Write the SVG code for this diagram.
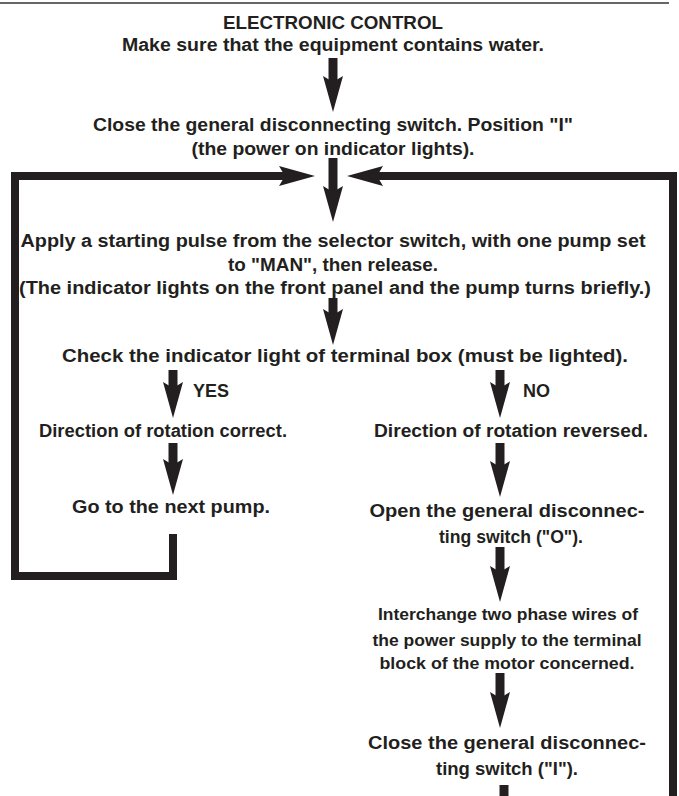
<svg xmlns="http://www.w3.org/2000/svg" width="679" height="796" viewBox="0 0 679 796">
<style>
.t{font-family:"Liberation Sans",Arial,sans-serif;font-weight:bold;font-size:18px;fill:#231f20;text-anchor:middle}
.s{font-size:17px}
.l{text-anchor:start}
.c{fill:none;stroke:#231f20;stroke-width:9;stroke-linejoin:miter;stroke-linecap:butt}
.k{stroke-width:8}
</style>
<defs>
<marker id="ah" viewBox="0 -11 40 22" refX="6" refY="0" markerWidth="40" markerHeight="22" markerUnits="userSpaceOnUse" orient="auto">
<path d="M0,-10 L36,0 L0,10 L6,0 Z" fill="#231f20"/>
</marker>
</defs>
<rect width="679" height="796" fill="#fff"/>
<line x1="0" y1="3" x2="669" y2="3" stroke="#333" stroke-width="1.5"/>

<g id="connectors">
<line class="c" x1="333" y1="58" x2="333" y2="82" marker-end="url(#ah)"/>
<line class="c" x1="333" y1="158" x2="333" y2="192" marker-end="url(#ah)"/>
<path class="c k" d="M173,534 V576 H15 V176 H285" marker-end="url(#ah)"/>
<path class="c k" d="M673,796 V176 H377" marker-end="url(#ah)"/>
<line class="c" x1="333" y1="298" x2="333" y2="315" marker-end="url(#ah)"/>
<line class="c" x1="173" y1="370" x2="173" y2="388" marker-end="url(#ah)"/>
<line class="c" x1="500" y1="370" x2="500" y2="388" marker-end="url(#ah)"/>
<line class="c" x1="173" y1="443" x2="173" y2="465" marker-end="url(#ah)"/>
<line class="c" x1="500" y1="443" x2="500" y2="467" marker-end="url(#ah)"/>
<line class="c" x1="500" y1="547" x2="500" y2="572" marker-end="url(#ah)"/>
<line class="c" x1="500" y1="673" x2="500" y2="698" marker-end="url(#ah)"/>
<line class="c" x1="504" y1="785" x2="504" y2="796"/>
</g>

<g id="title"><text class="t" x="333" y="29" textLength="220" lengthAdjust="spacingAndGlyphs">ELECTRONIC CONTROL</text></g>
<g id="n1"><text class="t" x="333" y="51" textLength="422" lengthAdjust="spacingAndGlyphs">Make sure that the equipment contains water.</text></g>
<g id="n2">
<text class="t" x="333" y="131" textLength="480" lengthAdjust="spacingAndGlyphs">Close the general disconnecting switch. Position "I"</text>
<text class="t" x="333" y="155" textLength="283" lengthAdjust="spacingAndGlyphs">(the power on indicator lights).</text>
</g>
<g id="n3">
<text class="t" x="333" y="247" textLength="625" lengthAdjust="spacingAndGlyphs">Apply a starting pulse from the selector switch, with one pump set</text>
<text class="t" x="333" y="271" textLength="210" lengthAdjust="spacingAndGlyphs">to "MAN", then release.</text>
<text class="t" x="335" y="294" textLength="632" lengthAdjust="spacingAndGlyphs">(The indicator lights on the front panel and the pump turns briefly.)</text>
</g>
<g id="n4"><text class="t" x="345" y="362" textLength="566" lengthAdjust="spacingAndGlyphs">Check the indicator light of terminal box (must be lighted).</text></g>
<g id="yes"><text class="t l" x="193" y="397" textLength="36" lengthAdjust="spacingAndGlyphs">YES</text></g>
<g id="no"><text class="t l" x="523" y="397" textLength="27" lengthAdjust="spacingAndGlyphs">NO</text></g>
<g id="n5"><text class="t" x="163" y="437" textLength="248" lengthAdjust="spacingAndGlyphs">Direction of rotation correct.</text></g>
<g id="n6"><text class="t" x="511" y="437" textLength="274" lengthAdjust="spacingAndGlyphs">Direction of rotation reversed.</text></g>
<g id="n7"><text class="t" x="171" y="513" textLength="198" lengthAdjust="spacingAndGlyphs">Go to the next pump.</text></g>
<g id="n8">
<text class="t" x="507" y="517" textLength="275" lengthAdjust="spacingAndGlyphs">Open the general disconnec-</text>
<text class="t" x="511" y="543" textLength="144" lengthAdjust="spacingAndGlyphs">ting switch ("O").</text>
</g>
<g id="n9">
<text class="t s" x="508" y="620" textLength="260" lengthAdjust="spacingAndGlyphs">Interchange two phase wires of</text>
<text class="t s" x="507" y="646" textLength="269" lengthAdjust="spacingAndGlyphs">the power supply to the terminal</text>
<text class="t s" x="507" y="669" textLength="255" lengthAdjust="spacingAndGlyphs">block of the motor concerned.</text>
</g>
<g id="n10">
<text class="t" x="507" y="749" textLength="278" lengthAdjust="spacingAndGlyphs">Close the general disconnec-</text>
<text class="t" x="507" y="775" textLength="142" lengthAdjust="spacingAndGlyphs">ting switch ("I").</text>
</g>
</svg>
